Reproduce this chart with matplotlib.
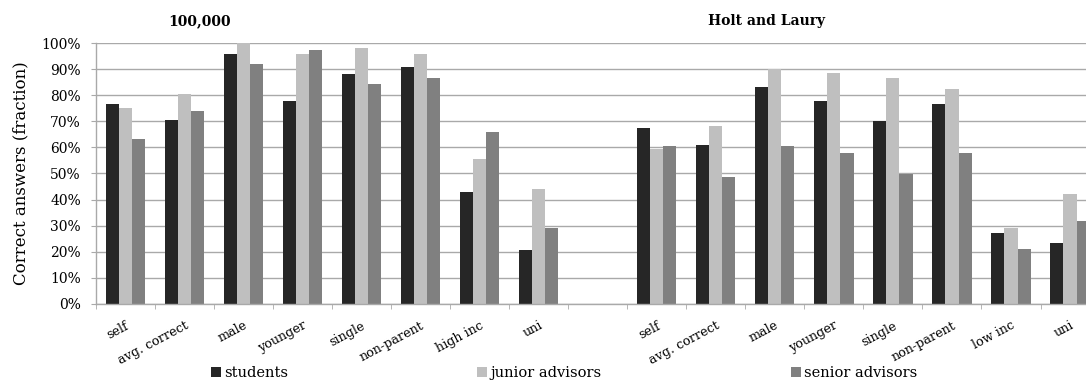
import numpy as np
import matplotlib
matplotlib.use('Agg')
from matplotlib import pyplot as plt
from matplotlib.ticker import PercentFormatter

plt.rcParams['font.family'] = 'DejaVu Serif'

cats_100k = ['self', 'avg. correct', 'male', 'younger', 'single', 'non-parent', 'high inc', 'uni']
cats_hl = ['self', 'avg. correct', 'male', 'younger', 'single', 'non-parent', 'low inc', 'uni']

students_100k = [76.5, 70.4, 96.0, 77.9, 88.3, 90.9, 42.8, 20.6]
junior_100k = [75.0, 80.6, 100.0, 96.0, 98.0, 96.0, 55.7, 44.1]
senior_100k = [63.1, 73.9, 92.1, 97.3, 84.2, 86.8, 65.8, 28.9]

students_hl = [67.4, 60.8, 83.1, 77.9, 70.0, 76.5, 27.3, 23.4]
junior_hl = [59.5, 68.3, 90.2, 88.5, 86.5, 82.6, 28.9, 42.3]
senior_hl = [60.4, 48.5, 60.4, 57.7, 49.9, 57.7, 21.0, 31.7]

series_names = ['students', 'junior advisors', 'senior advisors']
colors = ['#262626', '#bfbfbf', '#808080']
grid_color = '#a9a9a9'

# one empty slot between the two experiments
labels = cats_100k + [''] + cats_hl
nan = [np.nan]
series = [students_100k + nan + students_hl,
          junior_100k + nan + junior_hl,
          senior_100k + nan + senior_hl]

fig = plt.figure(figsize=(10.86, 3.8), dpi=100)
# axes runs a little past the right edge of the figure
ax = fig.add_axes([0.0881, 0.2008, 0.9244, 0.6853])

x = np.arange(len(labels))
w = 1 / 4.5
for i, (vals, name, c) in enumerate(zip(series, series_names, colors)):
    ax.bar(x + (i - 1) * w, np.array(vals) / 100, width=w, color=c, label=name, zorder=2)

ax.set_xlim(-0.5, len(labels) - 0.5)
ax.set_ylim(0, 1)
ax.set_yticks(np.arange(0, 1.01, 0.1))
ax.yaxis.set_major_formatter(PercentFormatter(1.0, decimals=0))
ax.grid(axis='y', color=grid_color, linewidth=1, zorder=0)

for s in ['top', 'right']:
    ax.spines[s].set_visible(False)
for s in ['left', 'bottom']:
    ax.spines[s].set_color(grid_color)
    ax.spines[s].set_linewidth(1)

ax.set_xticks(x)
ax.set_xticklabels(labels, rotation=28, ha='right', rotation_mode='anchor', fontsize=9.2)
ax.set_xticks(np.arange(-0.5, len(labels)), minor=True)
ax.tick_params(axis='x', which='major', length=0, pad=11)
ax.tick_params(axis='x', which='minor', length=3.5, color=grid_color)
ax.tick_params(axis='y', length=3.6, color=grid_color, labelsize=10, pad=7)

ax.set_ylabel('Correct answers (fraction)', fontsize=12, labelpad=9)

fig.text(200 / 1086, 1 - 21 / 380, '100,000', fontsize=10, fontweight='bold', ha='center', va='center')
fig.text(767 / 1086, 1 - 21 / 380, 'Holt and Laury', fontsize=10, fontweight='bold', ha='center', va='center')

fig.legend(loc='center', bbox_to_anchor=(564 / 1086, 1 - 373 / 380), ncol=3, frameon=False,
           fontsize=10.5, handlelength=0.7, handleheight=0.7, handletextpad=0.2,
           columnspacing=13.0, borderpad=0, borderaxespad=0)

fig.savefig('out.png', dpi=100)
